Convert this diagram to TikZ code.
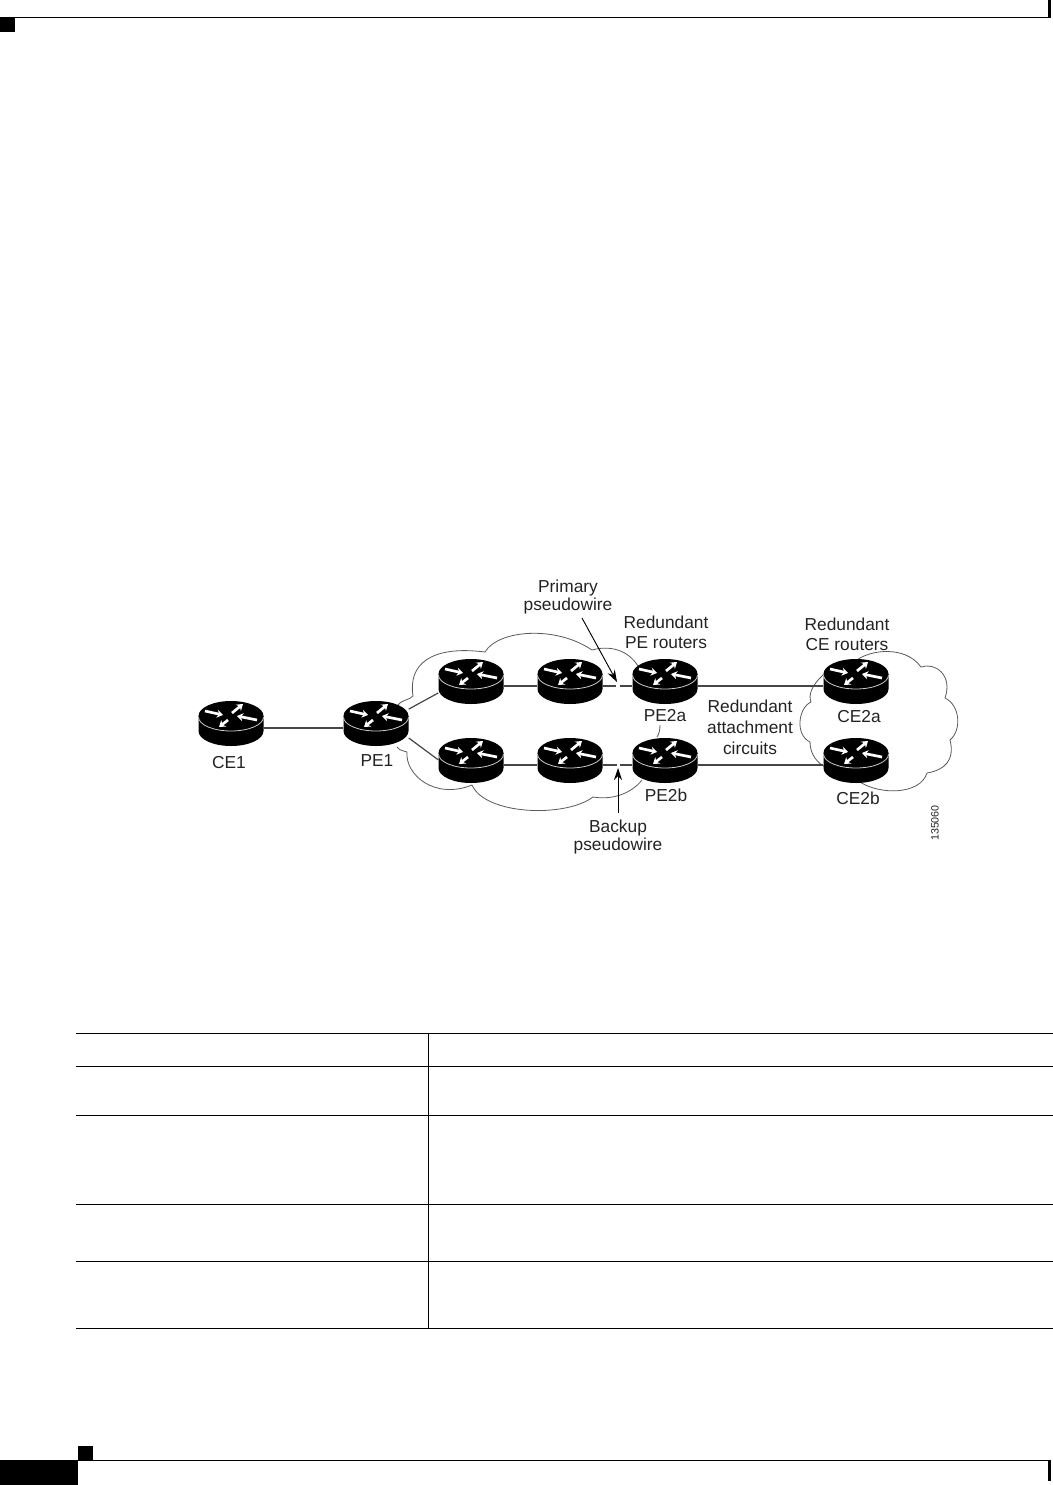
\documentclass[tikz,border=0pt]{standalone}
\usepackage{fontspec}
\setmainfont{Liberation Sans}
\usepackage{xcolor}
\usetikzlibrary{arrows.meta}
\definecolor{linegray}{RGB}{70,70,70}
\definecolor{cloudgray}{RGB}{90,90,90}
\definecolor{labelgray}{RGB}{35,35,35}
\newcommand{\routerat}[2]{%
  \fill[black] (#1-32.5,#2) -- (#1-32.5,#2+15) arc[start angle=180, end angle=0, x radius=32.5, y radius=15]
    -- (#1+32.5,#2) -- cycle;
  \fill[black] (#1,#2) ellipse[x radius=32.5, y radius=15];
  \draw[white!80!black, line width=0.6pt] (#1-32.5,#2+1) arc[start angle=180, end angle=0, x radius=32.5, y radius=14];
  \draw[rarrow] (#1-26,#2-5) -- (#1-8,#2-1);
  \draw[rarrow] (#1+26,#2+4) -- (#1+6,#2);
  \draw[rarrow] (#1+1,#2-3) -- (#1+12,#2-12);
  \draw[rarrow] (#1-3,#2+4) -- (#1-12,#2+11);}
\begin{document}
\begin{tikzpicture}[x=0.75pt, y=-0.75pt,
  hit/.style={rectangle, minimum width=48.75pt, minimum height=30pt, inner sep=0pt},
  rarrow/.style={-{Stealth[length=4.5pt,width=6pt]}, white, line width=2pt},
  link/.style={draw=linegray, line width=0.9pt},
  callout/.style={-{Stealth[length=9pt,width=6pt]}, black, line width=0.7pt},
  cloudline/.style={draw=cloudgray, line width=0.6pt},
  rule/.style={black, line width=0.75pt},
  lbl/.style={align=center, inner sep=0pt, text=labelgray, font=\fontsize{13}{15}\selectfont}]
  \useasboundingbox (0,0) rectangle (1053,1485);
  \fill[white] (0,0) rectangle (1053,1485);
  % page furniture
  \fill[black] (0,17) rectangle (15,32);
  \draw[rule] (0,17) -- (1049,17);
  \fill[black] (1048,0) rectangle (1051,18);
  \fill[black] (78,1446) rectangle (93,1460);
  \fill[black] (0,1460) rectangle (78,1485);
  \draw[rule] (78,1460) -- (1051,1460);
  \fill[black] (1048,1460) rectangle (1051,1481);
  % table
  \foreach \y in {1033,1066,1115,1204,1261,1328}
    \draw[rule] (76,\y) -- (1053,\y);
  \draw[rule] (428,1033) -- (428,1328);
  % clouds
  \draw[cloudline] (398,705) .. controls (403,699) and (410,700) .. (413,696)
    .. controls (408,665) and (430,645) .. (485,652)
    .. controls (498,630) and (555,625) .. (592,650)
    .. controls (610,645) and (628,650) .. (638,666);
  \draw[cloudline] (397,747) .. controls (401,752) and (404,750) .. (407,752)
    .. controls (405,775) and (435,800) .. (472,785)
    .. controls (485,815) and (565,818) .. (593,797)
    .. controls (610,800) and (630,795) .. (642,780);
  \draw[cloudline] (660,725) .. controls (660,730) and (659,734) .. (657,737);
  \draw[cloudline] (857,660) .. controls (870,650) and (905,645) .. (921,667)
    .. controls (935,662) and (953,675) .. (945,698)
    .. controls (960,705) and (962,730) .. (950,740)
    .. controls (955,760) and (945,770) .. (927,773)
    .. controls (920,795) and (880,795) .. (860,782);
  \draw[cloudline] (823,675) .. controls (812,685) and (808,695) .. (811,702)
    .. controls (798,708) and (795,735) .. (810,742)
    .. controls (810,755) and (818,763) .. (825,767);
  % router nodes
  \node[hit] (ce1) at (231,728) {};
  \node[hit] (pe1) at (376,728) {};
  \node[hit] (core1) at (471,686) {};
  \node[hit] (core2) at (570,686) {};
  \node[hit] (core3) at (471,765) {};
  \node[hit] (core4) at (570,765) {};
  \node[hit] (pe2a) at (665,686) {};
  \node[hit] (pe2b) at (665,765) {};
  \node[hit] (ce2a) at (856,686) {};
  \node[hit] (ce2b) at (856,765) {};
  \coordinate (gapa) at (616,686);
  \coordinate (gapb) at (620,686);
  \coordinate (gapc) at (617,765);
  \coordinate (gapd) at (620,765);
  \coordinate (primaryfrom) at (582,618);
  \coordinate (primaryto) at (617,682);
  \coordinate (backupfrom) at (618,813);
  \coordinate (backupto) at (618,768);
  % links
  \draw[link] (ce1) -- (pe1);
  \draw[link] (pe1.30) -- (core1.192);
  \draw[link] (pe1.-17) -- (core3.171);
  \draw[link] (core1) -- (core2);
  \draw[link] (core3) -- (core4);
  \draw[link] (core2) -- (gapa);
  \draw[link] (gapb) -- (pe2a);
  \draw[link] (core4) -- (gapc);
  \draw[link] (gapd) -- (pe2b);
  \draw[link] (pe2a) -- (ce2a);
  \draw[link] (pe2b) -- (ce2b);
  % routers
  \routerat{231}{716}
  \routerat{376}{716}
  \routerat{471}{674}
  \routerat{570}{674}
  \routerat{471}{753}
  \routerat{570}{753}
  \routerat{665}{674}
  \routerat{665}{753}
  \routerat{856}{674}
  \routerat{856}{753}
  \draw[callout] (primaryfrom) -- (primaryto);
  \draw[callout] (backupfrom) -- (backupto);
  % labels
  \node[lbl] (ce1lbl) at (229,763) {CE1};
  \node[lbl] (pe1lbl) at (377,761) {PE1};
  \node[lbl] (pe2albl) at (665,716) {PE2a};
  \node[lbl] (pe2blbl) at (666,795) {PE2b};
  \node[lbl] (ce2albl) at (859,717) {CE2a};
  \node[lbl] (ce2blbl) at (858,798) {CE2b};
  \node[lbl] (primary) at (568,597) {Primary\\[-1.2pt]pseudowire};
  \node[lbl] (redpe) at (666,632) {Redundant\\PE routers};
  \node[lbl] (redce) at (847,634) {Redundant\\CE routers};
  \node[lbl] (redac) at (750,727) {Redundant\\[0.8pt]attachment\\[0.8pt]circuits};
  \node[lbl] (backup) at (618,837) {Backup\\[-1.2pt]pseudowire};
  \node[lbl, rotate=90, font=\fontsize{8}{9}\selectfont] (figid) at (935,823) {135060};
\end{tikzpicture}
\end{document}
